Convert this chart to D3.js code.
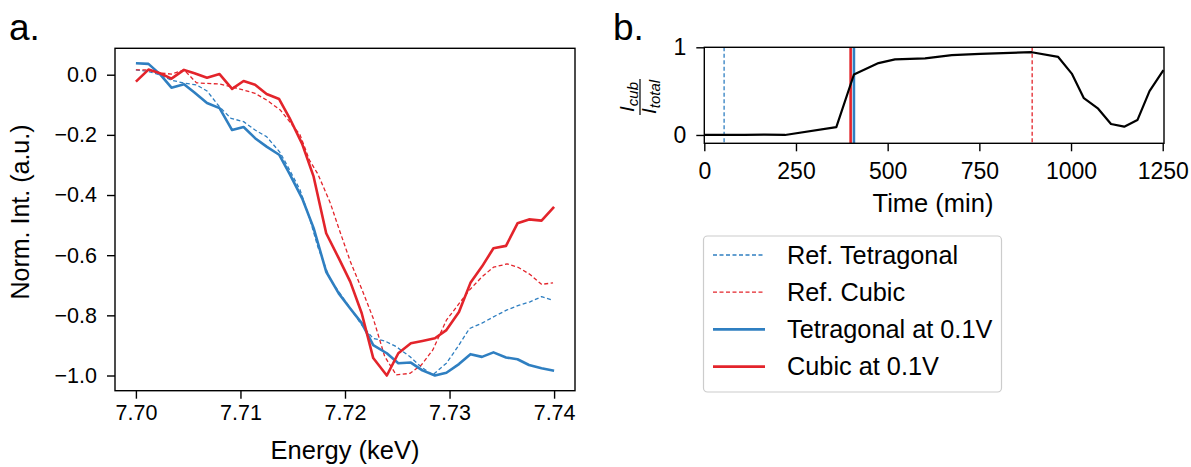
<!DOCTYPE html>
<html><head><meta charset="utf-8">
<script src="https://cdn.jsdelivr.net/npm/d3@7"></script>
<style>
body{margin:0;background:#fff}
text{font-family:"Liberation Sans",Arial,sans-serif;fill:#000}
</style>
</head><body>
<svg id="c" width="1191" height="467"></svg>
<script>
// ---- Panel a data ----
const energyMeas = [7.7000,7.7012,7.7023,7.7034,7.7046,7.7056,7.7068,7.7080,7.7092,7.7103,7.7114,7.7125,7.7137,7.7147,7.7159,7.7170,7.7182,7.7194,7.7205,7.7216,7.7227,7.7240,7.7251,7.7263,7.7274,7.7286,7.7297,7.7309,7.7320,7.7331,7.7342,7.7354,7.7365,7.7376,7.7388,7.7400];
const tetMeas = [0.038,0.036,0.002,-0.043,-0.032,-0.059,-0.094,-0.111,-0.184,-0.174,-0.211,-0.239,-0.266,-0.330,-0.411,-0.510,-0.655,-0.727,-0.777,-0.826,-0.899,-0.926,-0.959,-0.957,-0.983,-1.000,-0.991,-0.962,-0.929,-0.938,-0.923,-0.940,-0.946,-0.965,-0.976,-0.984];
const cubMeas = [-0.023,0.017,0.005,-0.013,0.016,0.005,-0.010,0.002,-0.047,-0.021,-0.033,-0.064,-0.081,-0.144,-0.230,-0.339,-0.527,-0.610,-0.688,-0.793,-0.942,-1.000,-0.926,-0.893,-0.885,-0.876,-0.849,-0.789,-0.692,-0.638,-0.577,-0.569,-0.494,-0.481,-0.485,-0.439];
const energyRef = [7.7000,7.7012,7.7023,7.7034,7.7046,7.7058,7.7068,7.7080,7.7091,7.7103,7.7114,7.7125,7.7138,7.7147,7.7157,7.7166,7.7174,7.7186,7.7194,7.7205,7.7216,7.7227,7.7238,7.7249,7.7262,7.7273,7.7284,7.7297,7.7308,7.7319,7.7331,7.7342,7.7355,7.7366,7.7377,7.7388,7.7399];
const tetRef = [0.016,0.011,-0.001,-0.018,-0.028,-0.034,-0.054,-0.107,-0.145,-0.156,-0.184,-0.206,-0.259,-0.317,-0.383,-0.476,-0.572,-0.683,-0.721,-0.776,-0.832,-0.877,-0.885,-0.904,-0.937,-0.972,-0.998,-0.959,-0.904,-0.844,-0.826,-0.805,-0.782,-0.767,-0.755,-0.738,-0.750];
const cubRef = [0.016,0.016,0.006,0.002,0.016,-0.027,-0.029,-0.031,-0.040,-0.051,-0.062,-0.084,-0.117,-0.156,-0.200,-0.284,-0.330,-0.427,-0.510,-0.620,-0.712,-0.810,-0.937,-0.998,-0.993,-0.965,-0.915,-0.816,-0.766,-0.716,-0.672,-0.640,-0.629,-0.641,-0.664,-0.697,-0.692];
const energyTicks = [7.70,7.71,7.72,7.73,7.74];
const intTicks = [0.0,-0.2,-0.4,-0.6,-0.8,-1.0];

// ---- Panel b data ----
const timeMin = [0,55,110,165,220,360,408,475,520,602,675,752,893,965,1002,1035,1074,1109,1145,1181,1214,1252];
const cubFraction = [0,0,0,0.005,0,0.09,0.69,0.82,0.863,0.874,0.91,0.925,0.944,0.89,0.70,0.42,0.30,0.125,0.095,0.17,0.50,0.74];
const timeTicks = [0,250,500,750,1000,1250];
const fracTicks = [0,1];
const markerTimes = [54,399,408,894];
const markerKinds = ["refTet","cubMeas","tetMeas","refCub"];

const seriesNames = ["Ref. Tetragonal","Ref. Cubic","Tetragonal at 0.1V","Cubic at 0.1V"];

const BLUE = "#2f7fc1", RED = "#e3242b";
const styles = {
  refTet:{color:BLUE,width:1.3,dash:"4,2.5"},
  refCub:{color:RED,width:1.3,dash:"4,2.5"},
  tetMeas:{color:BLUE,width:2.6,dash:null},
  cubMeas:{color:RED,width:2.6,dash:null}
};

const svg = d3.select("#c");

// ================= Panel a =================
const xa = d3.scaleLinear().domain([7.698,7.742]).range([115,575]);
const ya = d3.scaleLinear().domain([-1.0505,0.0878]).range([390.7,48.3]);

const ga = svg.append("g");
ga.append("g").attr("transform","translate(0,390.7)")
  .call(d3.axisBottom(xa).tickValues(energyTicks).tickFormat(d3.format(".2f")).tickSize(8).tickSizeOuter(0).tickPadding(6))
  .call(g=>{g.select(".domain").remove(); g.selectAll("line").attr("stroke","#000").attr("stroke-width",1.4); g.selectAll("text").attr("font-size",21.5).attr("font-family",null);});
ga.append("g").attr("transform","translate(115,0)")
  .call(d3.axisLeft(ya).tickValues(intTicks).tickFormat(d3.format(".1f")).tickSize(8).tickSizeOuter(0).tickPadding(10))
  .call(g=>{g.select(".domain").remove(); g.selectAll("line").attr("stroke","#000").attr("stroke-width",1.4); g.selectAll("text").attr("font-size",21.5).attr("font-family",null);});

const lineA = (xs,ys)=> d3.line().x((d,i)=>xa(xs[i])).y(d=>ya(d))(ys);
const drawA = (xs,ys,st)=> ga.append("path").attr("d",lineA(xs,ys)).attr("fill","none")
  .attr("stroke",st.color).attr("stroke-width",st.width).attr("stroke-dasharray",st.dash).attr("stroke-linejoin","round");
drawA(energyRef,tetRef,styles.refTet);
drawA(energyRef,cubRef,styles.refCub);
drawA(energyMeas,tetMeas,styles.tetMeas);
drawA(energyMeas,cubMeas,styles.cubMeas);

ga.append("rect").attr("x",115).attr("y",48.3).attr("width",460).attr("height",342.4)
  .attr("fill","none").attr("stroke","#000").attr("stroke-width",1.4);

ga.append("text").attr("x",345).attr("y",459).attr("text-anchor","middle").attr("font-size",25.5).text("Energy (keV)");
ga.append("text").attr("transform","translate(29,212) rotate(-90)").attr("text-anchor","middle").attr("font-size",25).text("Norm. Int. (a.u.)");
ga.append("text").attr("x",9).attr("y",40).attr("font-size",37).text("a.");

// ================= Panel b =================
const xb = d3.scaleLinear().domain([0,1253.5]).range([704.3,1164]);
const yb = d3.scaleLinear().domain([-0.095,1]).range([143.3,47.3]);
const gb = svg.append("g");
gb.append("g").attr("transform","translate(0,143.3)")
  .call(d3.axisBottom(xb).tickValues(timeTicks).tickFormat(d3.format("d")).tickSize(8).tickSizeOuter(0).tickPadding(11))
  .call(g=>{g.select(".domain").remove(); g.selectAll("line").attr("stroke","#000").attr("stroke-width",1.4); g.selectAll("text").attr("font-size",23).attr("font-family",null);});
gb.append("g").attr("transform","translate(704.3,0)")
  .call(d3.axisLeft(yb).tickValues(fracTicks).tickFormat(d3.format("d")).tickSize(8).tickSizeOuter(0).tickPadding(10))
  .call(g=>{g.select(".domain").remove(); g.selectAll("line").attr("stroke","#000").attr("stroke-width",1.4); g.selectAll("text").attr("font-size",23).attr("font-family",null);});

markerTimes.forEach((t,i)=>{
  const st = styles[markerKinds[i]];
  gb.append("line").attr("x1",xb(t)).attr("x2",xb(t)).attr("y1",yb(1)).attr("y2",yb(-0.095))
    .attr("stroke",st.color).attr("stroke-width",st.width).attr("stroke-dasharray",st.dash);
});
gb.append("path").attr("d",d3.line().x((d,i)=>xb(timeMin[i])).y(d=>yb(d))(cubFraction))
  .attr("fill","none").attr("stroke","#000").attr("stroke-width",2.2).attr("stroke-linejoin","round");
gb.append("rect").attr("x",704.3).attr("y",47.3).attr("width",459.7).attr("height",96)
  .attr("fill","none").attr("stroke","#000").attr("stroke-width",1.4);

gb.append("text").attr("x",933).attr("y",212).attr("text-anchor","middle").attr("font-size",25.5).text("Time (min)");
gb.append("text").attr("x",613).attr("y",40).attr("font-size",37).text("b.");

// fraction label
const fr = gb.append("g").attr("transform","translate(640,97) rotate(-90)");
const num = fr.append("text").attr("x",0).attr("y",-6).attr("text-anchor","middle").attr("font-size",21).attr("font-style","italic");
num.append("tspan").text("I");
num.append("tspan").attr("font-size",15).attr("dy",4).text("cub");
fr.append("line").attr("x1",-18).attr("x2",18).attr("y1",0).attr("y2",0).attr("stroke","#000").attr("stroke-width",1.2);
const den = fr.append("text").attr("x",0).attr("y",16).attr("text-anchor","middle").attr("font-size",21).attr("font-style","italic");
den.append("tspan").text("I");
den.append("tspan").attr("font-size",15).attr("dy",4).text("total");

// ================= Legend =================
const lg = svg.append("g");
lg.append("rect").attr("x",703.5).attr("y",236).attr("width",298).attr("height",156).attr("rx",4)
  .attr("fill","#fff").attr("stroke","#ccc").attr("stroke-width",1.2);
const legKeys = ["refTet","refCub","tetMeas","cubMeas"];
seriesNames.forEach((name,i)=>{
  const y = 255 + i*37.2;
  const st = styles[legKeys[i]];
  lg.append("line").attr("x1",713).attr("x2",765).attr("y1",y).attr("y2",y)
    .attr("stroke",st.color).attr("stroke-width",st.width).attr("stroke-dasharray",st.dash);
  lg.append("text").attr("x",787).attr("y",y).attr("dy","0.35em").attr("font-size",25.3).text(name);
});
</script>
</body></html>
